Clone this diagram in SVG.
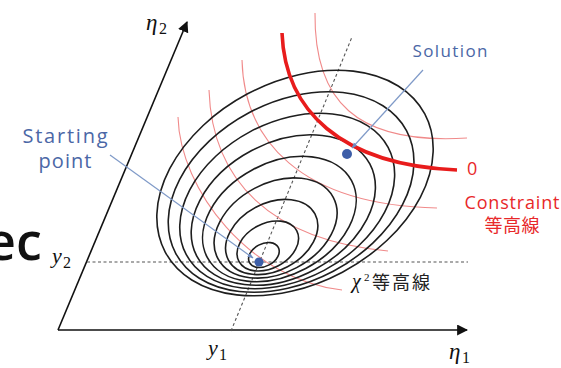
<svg xmlns="http://www.w3.org/2000/svg" width="561" height="368" viewBox="0 0 561 368">
<style>
.ax{stroke:#111;stroke-width:1.6;fill:none}
.dash{stroke:#555;stroke-width:1.1;stroke-dasharray:3 2.5;fill:none}
.el{stroke:#1e1e1e;stroke-width:1.6;fill:none}
.rt{stroke:#f08a8a;stroke-width:1.1;fill:none}
.rk{stroke:#e81c1c;stroke-width:3.6;fill:none}
.bl{stroke:#7f9ac8;stroke-width:1.2;fill:none}
.lab{font-family:"Open Sans","Noto Sans",sans-serif;fill:#4b67a6}
.red{font-family:"Open Sans","Noto Sans","Noto Sans CJK JP",sans-serif;fill:#e8282a}
.math{font-family:"Liberation Serif","DejaVu Serif",serif;font-style:italic;fill:#111}
.sub{font-family:"Liberation Serif","DejaVu Serif",serif;fill:#111}
.jp{font-family:"Noto Sans CJK JP",sans-serif;fill:#222}
</style>
<defs>
<marker id="ah" viewBox="0 0 10 10" refX="9" refY="5" markerWidth="11" markerHeight="11" markerUnits="userSpaceOnUse" orient="auto">
<path d="M0,0 L10,5 L0,10 z" fill="#111"/>
</marker>
<marker id="bh" viewBox="0 0 10 10" refX="9" refY="5" markerWidth="6" markerHeight="6" markerUnits="userSpaceOnUse" orient="auto">
<path d="M0,1 L10,5 L0,9 z" fill="#6f8cc0"/>
</marker>
</defs>
<text x="-14" y="260" font-family="'Open Sans','Noto Sans',sans-serif" font-size="52" font-weight="600" fill="#111">ec</text>
<g id="axes">
<path class="ax" d="M58,330 L187,22" marker-end="url(#ah)"/>
<path class="ax" d="M58,330 L467,330" marker-end="url(#ah)"/>
</g>
<g id="guides">
<path class="dash" d="M87,262 L468,262"/>
<path class="dash" d="M231,331 L352,37"/>
</g>
<g id="constraint-contours">
<path class="rt" d="M315,13 C314,100 355,145 467,138"/>
<path class="rt" d="M242,60 C244,140 300,205 437,208"/>
<path class="rt" d="M209,90 C212,180 270,240 388,251"/>
<path class="rt" d="M178,117 C180,190 250,280 342,290"/>
</g>
<g id="chi2-contours">
<ellipse class="el" cx="263.9" cy="255" rx="16.3" ry="11.2" transform="rotate(-28 263.9 255)"/>
<ellipse class="el" cx="267.8" cy="246" rx="32.7" ry="22.4" transform="rotate(-28 267.8 246)"/>
<ellipse class="el" cx="271.7" cy="237" rx="49" ry="33.7" transform="rotate(-28 271.7 237)"/>
<ellipse class="el" cx="275.6" cy="228" rx="65.3" ry="44.9" transform="rotate(-28 275.6 228)"/>
<ellipse class="el" cx="279.4" cy="219" rx="81.7" ry="56.1" transform="rotate(-28 279.4 219)"/>
<ellipse class="el" cx="283.3" cy="210" rx="98" ry="67.3" transform="rotate(-28 283.3 210)"/>
<ellipse class="el" cx="287.2" cy="201" rx="114.3" ry="78.6" transform="rotate(-28 287.2 201)"/>
<ellipse class="el" cx="291.1" cy="192" rx="130.7" ry="89.8" transform="rotate(-28 291.1 192)"/>
<ellipse class="el" cx="295" cy="183" rx="147" ry="101" transform="rotate(-28 295 183)"/>
</g>
<g id="constraint-zero">
<path class="rk" d="M282,33 C285,110 340,165 457,170"/>
</g>
<g id="connectors">
<path class="bl" d="M110,155 L253,258" marker-end="url(#bh)"/>
<path class="bl" d="M423,70 L352,148" marker-end="url(#bh)"/>
</g>
<g id="starting-point">
<circle cx="259" cy="262" r="4.5" fill="#3d5ea8"/>
<text class="lab" x="65" y="143" font-size="20" text-anchor="middle" textLength="85">Starting</text>
<text class="lab" x="65" y="168" font-size="20" text-anchor="middle" textLength="53">point</text>
</g>
<g id="solution">
<circle cx="347" cy="154" r="5" fill="#3d5ea8"/>
<text class="lab" x="450" y="57" font-size="17" text-anchor="middle" textLength="75">Solution</text>
</g>
<g id="labels">
<text class="red" x="467" y="175" font-size="18">0</text>
<text class="red" x="512" y="209" font-size="18" text-anchor="middle" textLength="95">Constraint</text>
<text class="red" x="512" y="232" font-size="18" text-anchor="middle" textLength="55" font-family="'Noto Sans CJK JP',sans-serif">等高線</text>
<text class="math" x="352" y="288" font-size="20">χ</text>
<text class="sub" x="364" y="281" font-size="11">2</text>
<text class="jp" x="372" y="289" font-size="18" textLength="58">等高線</text>
<text class="math" x="146" y="30" font-size="23">η</text>
<text class="sub" x="159" y="34" font-size="16">2</text>
<text class="math" x="449" y="359" font-size="23">η</text>
<text class="sub" x="462" y="363" font-size="16">1</text>
<text class="math" x="208" y="355" font-size="22">y</text>
<text class="sub" x="219" y="360" font-size="16">1</text>
<text class="math" x="52" y="263" font-size="22">y</text>
<text class="sub" x="63" y="268" font-size="16">2</text>
</g>
</svg>
